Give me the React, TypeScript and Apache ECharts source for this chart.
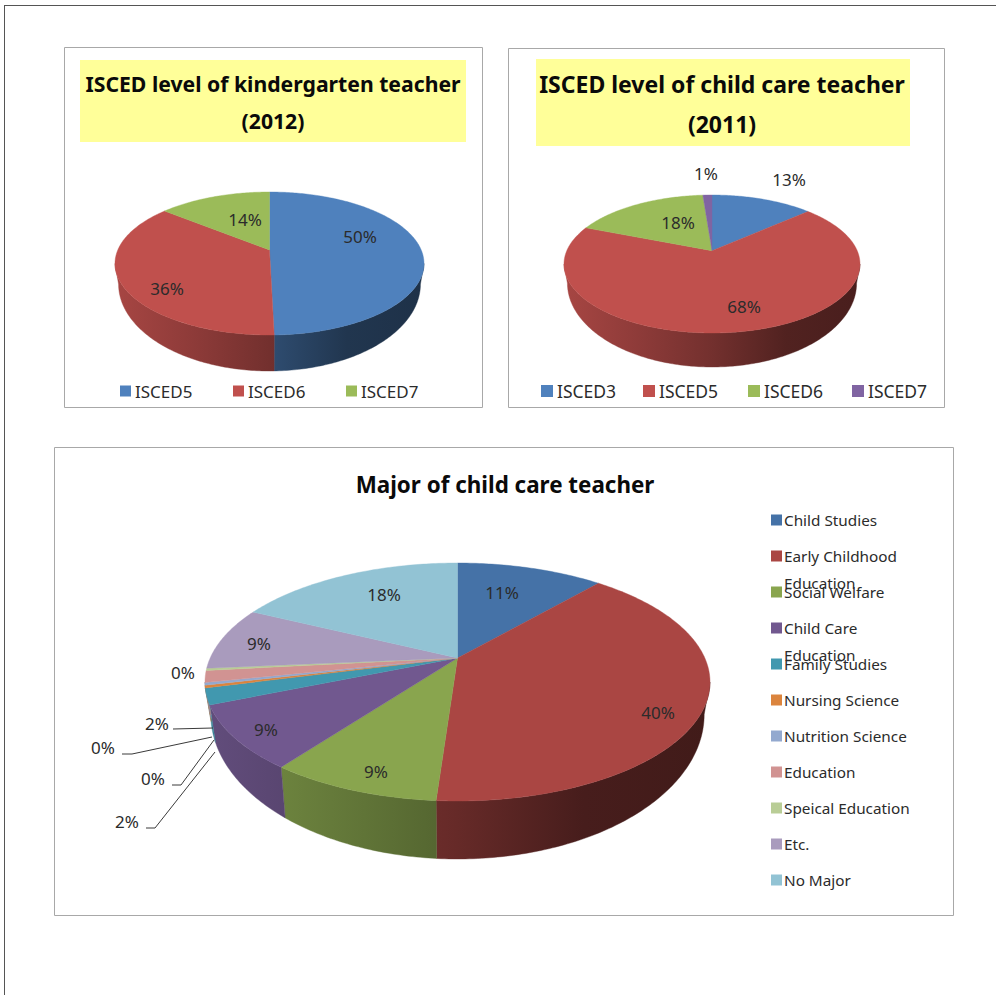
import React, { useEffect, useRef } from "react";
import * as echarts from "echarts";

// ---------- data ----------
const kinderCategories = ["ISCED5", "ISCED6", "ISCED7"];
const kinderValues = [49.6, 36.3, 14.1];
const careCategories = ["ISCED3", "ISCED5", "ISCED6", "ISCED7"];
const careValues = [13.4, 67.6, 17.8, 1.2];
const majorCategories = [
  "Child Studies", "Early Childhood\nEducation", "Social Welfare", "Child Care\nEducation",
  "Family Studies", "Nursing Science", "Nutrition Science", "Education",
  "Speical Education", "Etc.", "No Major",
];
const majorValues = [11.4, 39.7, 9.1, 8.6, 2.2, 0.35, 0.35, 1.6, 0.3, 8.6, 17.8];
const kinderTitle = "ISCED level of kindergarten teacher\n(2012)";
const careTitle = "ISCED level of child care teacher\n(2011)";
const majorTitle = "Major of child care teacher";

// ---------- styles and layout ----------
const FONT = '"Noto Sans", sans-serif';
const TEXT = "#2b2b2b";
const officeColors = ["#4F81BD", "#C0504D", "#9BBB59", "#8064A2"];
const majorColors = ["#4572A7", "#AA4643", "#89A54E", "#71588F", "#4198AF", "#DB843D", "#93A9CF", "#D19392", "#B9CD96", "#A99BBD", "#92C3D4"];

type Pie = {
  name: string; values: number[]; categories: string[]; colors: string[];
  cx: number; cy: number; rx: number; ry: number; apexY: number; depth: number;
  labelAt: number[][]; leaders?: (number[][] | null)[];
  legendAt: number[][]; fontSize: number; legendFont: number; swatch: number;
};

const pies: Pie[] = [
  {
    name: "kindergarten", values: kinderValues, categories: kinderCategories, colors: officeColors,
    cx: 269.5, cy: 263.5, rx: 154.5, ry: 71.5, apexY: 250, depth: 36,
    labelAt: [[360, 236.5], [167, 288], [245, 219]],
    legendAt: [[120, 391], [233, 391], [346, 391]],
    fontSize: 17, legendFont: 17, swatch: 11,
  },
  {
    name: "childcare", values: careValues, categories: careCategories, colors: officeColors,
    cx: 712, cy: 264, rx: 148, ry: 69, apexY: 250.7, depth: 34,
    labelAt: [[789, 179], [744, 306], [678, 222], [706, 173]],
    legendAt: [[541, 391], [643, 391], [748, 391], [852, 391]],
    fontSize: 17, legendFont: 17.5, swatch: 12,
  },
  {
    name: "major", values: majorValues, categories: majorCategories, colors: majorColors,
    cx: 457.5, cy: 682, rx: 252.5, ry: 119, apexY: 658, depth: 58,
    labelAt: [[502, 592], [658, 712], [376, 771], [266, 729], [127, 821], [153, 778], [103, 747], [157, 723], [183, 672], [259, 643], [384, 594]],
    leaders: [null, null, null, null,
      [[146, 828], [155, 828], [215, 752]],
      [[172, 785], [181, 785], [214, 740]],
      [[122, 754], [132, 754], [212, 737]],
      [[173, 729], [213, 728]],
      null, null, null],
    legendAt: [520, 556, 592, 628, 664, 700, 736, 772, 808, 844, 880].map((y) => [771, y]),
    fontSize: 17, legendFont: 15.3, swatch: 11,
  },
];

function shade(hex: string, f: number) {
  const n = parseInt(hex.slice(1), 16);
  const c = [(n >> 16) & 255, (n >> 8) & 255, n & 255].map((v) => Math.round(v * f));
  return `rgb(${c[0]},${c[1]},${c[2]})`;
}

// Perspective: maps a slice angle on the real disc to the parameter on the drawn ellipse
function projected(theta: number, k: number) {
  const x = Math.sin(theta);
  const y = Math.cos(theta);
  const d = 1 + k * y;
  return Math.atan2((x * Math.sqrt(1 - k * k)) / d, (y + k) / d);
}

function makeSeries(p: Pie) {
  const total = p.values.reduce((a, b) => a + b, 0);
  const k = (p.cy - p.apexY) / p.ry;
  const lowRx = p.rx * 0.977;
  const lowRy = p.ry * 1.215;
  const lowCy = p.cy + p.depth - (lowRy - p.ry);
  const top = (t: number) => [p.cx + p.rx * Math.sin(t), p.cy - p.ry * Math.cos(t)];
  const low = (t: number) => [p.cx + lowRx * Math.sin(t), lowCy - lowRy * Math.cos(t)];
  const wrap = (t: number) => (t < 0 ? t + 2 * Math.PI : t);

  const renderItem = (params: any, api: any) => {
    const i = params.dataIndex;
    let before = 0;
    for (let j = 0; j < i; j++) before += p.values[j];
    const value = api.value(0);
    const a0 = (before / total) * 2 * Math.PI;
    const a1 = ((before + value) / total) * 2 * Math.PI;
    const t0 = wrap(projected(a0, k));
    let t1 = wrap(projected(a1, k));
    if (t1 <= t0) t1 += 2 * Math.PI;
    const color = p.colors[i];
    const children: any[] = [];

    // side wall: only the part of the arc on the front half of the ellipse
    const s0 = Math.max(t0, Math.PI / 2);
    const s1 = Math.min(t1, (3 * Math.PI) / 2);
    if (s1 > s0) {
      const up: number[][] = [];
      const dn: number[][] = [];
      const steps = Math.max(3, Math.ceil((s1 - s0) * 60));
      for (let n = 0; n <= steps; n++) {
        const t = s0 + ((s1 - s0) * n) / steps;
        up.push(top(t));
        dn.unshift(low(t));
      }
      const fill = new (echarts.graphic as any).LinearGradient(
        p.cx - p.rx, 0, p.cx + p.rx, 0,
        [
          { offset: 0, color: shade(color, 0.87) },
          { offset: 0.25, color: shade(color, 0.74) },
          { offset: 0.5, color: shade(color, 0.6) },
          { offset: 0.75, color: shade(color, 0.42) },
          { offset: 1, color: shade(color, 0.38) },
        ],
        true,
      );
      children.push({ type: "polygon", shape: { points: up.concat(dn) }, style: { fill, stroke: fill, lineWidth: 0.4 } });
    }

    // top face
    const face: number[][] = [[p.cx, p.apexY]];
    const steps = Math.max(3, Math.ceil((t1 - t0) * 80));
    for (let n = 0; n <= steps; n++) face.push(top(t0 + ((t1 - t0) * n) / steps));
    children.push({ type: "polygon", z2: 5, shape: { points: face }, style: { fill: color, stroke: color, lineWidth: 0.4 } });

    // leader line
    const leader = p.leaders && p.leaders[i];
    if (leader) {
      children.push({ type: "polyline", z2: 9, shape: { points: leader }, style: { fill: "none", stroke: "#3a3a3a", lineWidth: 1 } });
    }

    // percentage label
    const at = p.labelAt[i];
    children.push({
      type: "text", z2: 10, x: at[0], y: at[1],
      style: { text: `${Math.round((value / total) * 100)}%`, fill: TEXT, font: `${p.fontSize}px ${FONT}`, align: "center", verticalAlign: "middle" },
    });

    // legend entry
    const lg = p.legendAt[i];
    const s = p.swatch;
    children.push({ type: "rect", z2: 10, shape: { x: lg[0], y: lg[1] - s / 2, width: s, height: s }, style: { fill: color } });
    const lines = p.categories[i].split("\n");
    lines.forEach((line, n) => {
      children.push({
        type: "text", z2: 10, x: lg[0] + s + (p.name === "major" ? 2 : 4), y: lg[1] + n * 27,
        style: { text: line, fill: TEXT, font: `${p.legendFont}px ${FONT}`, align: "left", verticalAlign: "middle" },
      });
    });
    return { type: "group", children };
  };

  return {
    type: "custom",
    name: p.name,
    coordinateSystem: "none",
    silent: true,
    clip: false,
    renderItem,
    data: p.values.map((v, i) => ({ name: p.categories[i], value: [v] })),
  };
}

const panel = (x: number, y: number, width: number, height: number) => ({
  type: "rect", shape: { x: x + 0.5, y: y + 0.5, width, height },
  style: { fill: "#fff", stroke: "#a8a8a8", lineWidth: 1 },
});
const yellow = (x: number, y: number, width: number, height: number) => ({
  type: "rect", shape: { x, y, width, height }, style: { fill: "#FFFF99" },
});

export default function App() {
  const ref = useRef<HTMLDivElement>(null);
  useEffect(() => {
    document.body.style.margin = "0";
    const chart = echarts.init(ref.current!, null, { renderer: "svg" });
    chart.setOption({
      animation: false,
      backgroundColor: "#ffffff",
      title: [
        { text: kinderTitle, left: 273, top: 64.5, padding: 0, textAlign: "center", textStyle: { fontFamily: FONT, fontWeight: "bold", fontSize: 21.2, lineHeight: 37, color: "#0a0a0a" } },
        { text: careTitle, left: 722, top: 64, padding: 0, textAlign: "center", textStyle: { fontFamily: FONT, fontWeight: "bold", fontSize: 23, lineHeight: 40, color: "#0a0a0a" } },
        { text: majorTitle, left: 505, top: 470, padding: 0, textAlign: "center", textStyle: { fontFamily: FONT, fontWeight: "bold", fontSize: 22.4, lineHeight: 28, color: "#0a0a0a" } },
      ],
      graphic: [
        { type: "line", shape: { x1: 4.5, y1: 5, x2: 4.5, y2: 995 }, style: { stroke: "#555", lineWidth: 1 } },
        { type: "line", shape: { x1: 4, y1: 5.5, x2: 996, y2: 5.5 }, style: { stroke: "#555", lineWidth: 1 } },
        panel(64, 47, 418, 360),
        panel(508, 48, 436, 359),
        panel(54, 447, 899, 468),
        yellow(80, 60, 386, 82),
        yellow(536, 59, 374, 87),
      ],
      series: pies.map(makeSeries),
    });
    return () => chart.dispose();
  }, []);
  return <div ref={ref} style={{ width: 996, height: 995 }} />;
}
